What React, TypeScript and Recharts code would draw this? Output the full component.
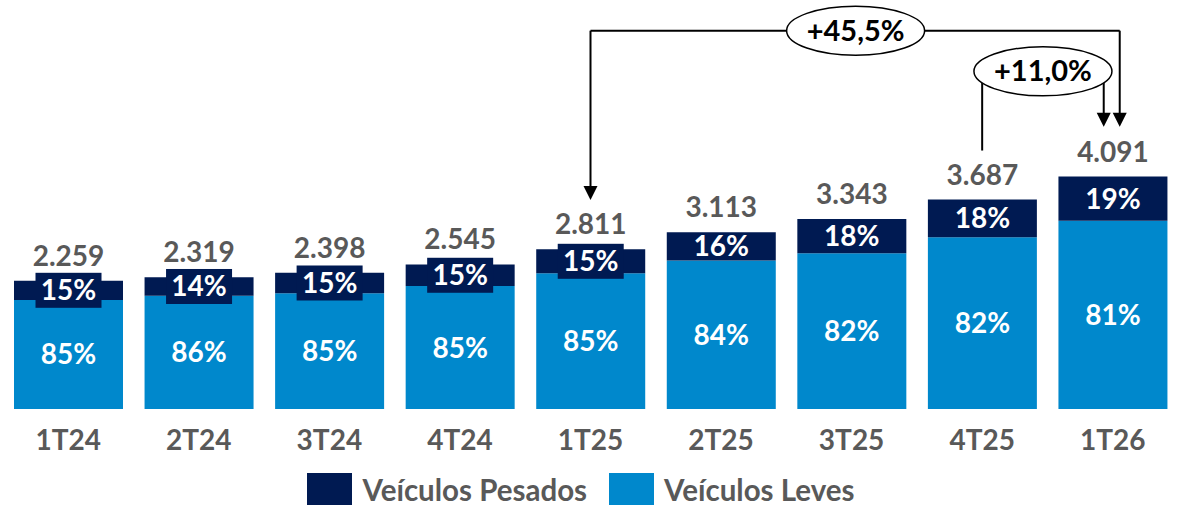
import { BarChart, Bar, XAxis, YAxis, Legend, LabelList, ReferenceLine } from "recharts"

const categories = ["1T24", "2T24", "3T24", "4T24", "1T25", "2T25", "3T25", "4T25", "1T26"]
const totals = [2259, 2319, 2398, 2545, 2811, 3113, 3343, 3687, 4091]
const pesadosPct = [15, 14, 15, 15, 15, 16, 18, 18, 19]
const levesPct = [85, 86, 85, 85, 85, 84, 82, 82, 81]

const NAVY = "#001A52"
const BLUE = "#0088CC"
const GREY = "#595959"
const FONT = "Lato, 'Open Sans', sans-serif"

const data = categories.map((quarter, i) => ({
  quarter,
  total: totals[i],
  pesadosPct: pesadosPct[i],
  levesPct: levesPct[i],
  leves: (totals[i] * levesPct[i]) / 100,
  pesados: (totals[i] * pesadosPct[i]) / 100,
}))

const fmt = (n: number) => String(n).replace(/\B(?=(\d{3})+(?!\d))/g, ".")

function box(props: any) {
  const vb = props.viewBox ?? props
  return { x: Number(vb.x), y: Number(vb.y), width: Number(vb.width), height: Number(vb.height) }
}

function PctLabel(props: any) {
  const { x, y, width, height } = box(props)
  const cx = x + width / 2
  const cy = y + height / 2
  const boxed = props.boxed && height < 27
  return (
    <g>
      {boxed && <rect x={cx - 33} y={cy - 17.5} width={66} height={35} fill={NAVY} />}
      <text x={cx} y={cy + 10} textAnchor="middle" fill="#fff" fontFamily={FONT} fontWeight={700} fontSize={28}>
        {props.value}%
      </text>
    </g>
  )
}

function TotalLabel(props: any) {
  const { x, y, width } = box(props)
  return (
    <text x={x + width / 2} y={y - 15} textAnchor="middle" fill={GREY} fontFamily={FONT} fontWeight={700} fontSize={28}>
      {fmt(props.value)}
    </text>
  )
}

function QuarterTick({ x, y, payload }: any) {
  return (
    <text x={x} y={y} dy={33} textAnchor="middle" fill={GREY} fontFamily={FONT} fontWeight={700} fontSize={28}>
      {payload.value}
    </text>
  )
}

// vertical connector, optional arrow head pointing down at the end
function Connector({ x1, y1, x2, y2, dx = 0, arrow = false }: any) {
  const ax = x2 + dx
  return (
    <g>
      <line x1={x1 + dx} y1={y1} x2={ax} y2={arrow ? y2 - 12 : y2} stroke="#000" strokeWidth={2} />
      {arrow && <polygon points={`${ax - 7},${y2 - 14} ${ax + 7},${y2 - 14} ${ax},${y2}`} fill="#000" />}
    </g>
  )
}

function Bubble({ x1, y1, x2, text, dx = 0, lineEnd }: any) {
  const cx = (x1 + x2) / 2 + dx
  return (
    <g>
      {lineEnd !== undefined && <line x1={x1} y1={y1} x2={x2 + lineEnd} y2={y1} stroke="#000" strokeWidth={2} />}
      <ellipse cx={cx} cy={y1} rx={69} ry={24.5} fill="#fff" stroke="#000" strokeWidth={1.5} />
      <text x={cx} y={y1 + 10} textAnchor="middle" fill="#000" fontFamily={FONT} fontWeight={700} fontSize={29}>
        {text}
      </text>
    </g>
  )
}

function LegendContent({ payload }: any) {
  const items = [...(payload ?? [])].reverse()
  return (
    <div style={{ display: "flex", justifyContent: "center", alignItems: "center", paddingTop: 11, paddingLeft: 6, fontFamily: FONT }}>
      {items.map((item: any) => (
        <div key={item.value} style={{ display: "flex", alignItems: "center", marginRight: 22, height: 36 }}>
          <div style={{ width: 45, height: 34, background: item.color, marginRight: 10 }} />
          <span style={{ color: GREY, fontWeight: 700, fontSize: 29.5, lineHeight: "30px" }}>{item.value}</span>
        </div>
      ))}
    </div>
  )
}

export default function App() {
  return (
    <div style={{ position: "absolute", left: 0, top: 0, width: 1178, height: 505, background: "#fff" }}>
      <BarChart width={1178} height={505} data={data} margin={{ top: 0, right: 0, left: 3, bottom: 0 }}>
        <XAxis dataKey="quarter" axisLine={false} tickLine={false} height={52} interval={0} tick={<QuarterTick />} />
        <YAxis hide type="number" domain={[0, 7200]} allowDataOverflow />
        <Legend
          verticalAlign="bottom"
          wrapperStyle={{ left: 0, bottom: 0, width: 1178, height: 44 }}
          content={<LegendContent />}
        />
        <Bar dataKey="leves" name="Veículos Leves" stackId="a" fill={BLUE} barSize={109} isAnimationActive={false}>
          <LabelList dataKey="levesPct" content={(p: any) => <PctLabel {...p} />} />
        </Bar>
        <Bar dataKey="pesados" name="Veículos Pesados" stackId="a" fill={NAVY} barSize={109} isAnimationActive={false}>
          <LabelList dataKey="pesadosPct" content={(p: any) => <PctLabel {...p} boxed />} />
          <LabelList dataKey="total" content={(p: any) => <TotalLabel {...p} />} />
        </Bar>
        <ReferenceLine segment={[{ x: "1T25", y: 6660 }, { x: "1T25", y: 3680 }]} ifOverflow="visible" shape={(p: any) => <Connector {...p} arrow />} />
        <ReferenceLine segment={[{ x: "1T26", y: 6660 }, { x: "1T26", y: 4970 }]} ifOverflow="visible" shape={(p: any) => <Connector {...p} dx={7} arrow />} />
        <ReferenceLine segment={[{ x: "4T25", y: 5945 }, { x: "4T25", y: 4550 }]} ifOverflow="visible" shape={(p: any) => <Connector {...p} />} />
        <ReferenceLine segment={[{ x: "1T26", y: 5945 }, { x: "1T26", y: 4970 }]} ifOverflow="visible" shape={(p: any) => <Connector {...p} dx={-9} arrow />} />
        <ReferenceLine segment={[{ x: "1T25", y: 6660 }, { x: "1T26", y: 6660 }]} ifOverflow="visible" shape={(p: any) => <Bubble {...p} text="+45,5%" dx={4} lineEnd={7} />} />
        <ReferenceLine segment={[{ x: "4T25", y: 5945 }, { x: "1T26", y: 5945 }]} ifOverflow="visible" shape={(p: any) => <Bubble {...p} text="+11,0%" dx={-4.5} />} />
      </BarChart>
    </div>
  )
}
